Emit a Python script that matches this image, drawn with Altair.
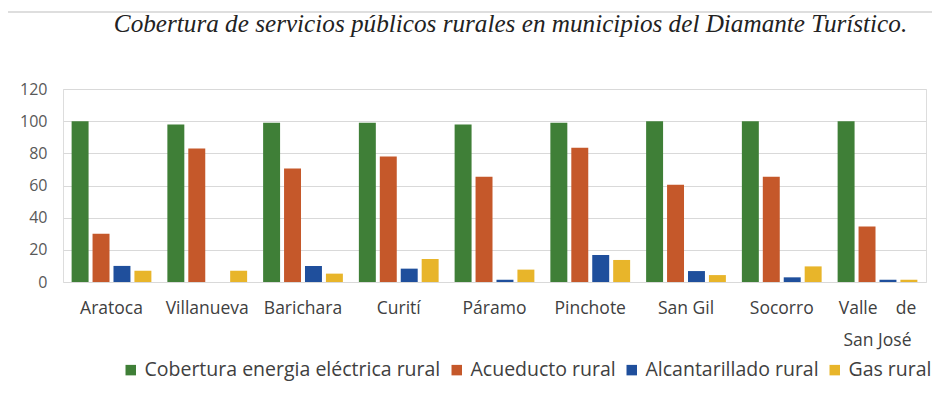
import altair as alt
import pandas as pd

municipios = ["Aratoca", "Villanueva", "Barichara", "Curití", "Páramo",
              "Pinchote", "San Gil", "Socorro", "Valle de San José"]
series = ["Cobertura energia eléctrica rural", "Acueducto rural",
          "Alcantarillado rural", "Gas rural"]
energia = [100, 98, 99, 99, 98, 99, 100, 100, 100]
acueducto = [30, 83, 70.5, 78, 65.5, 83.5, 60.5, 65.5, 34.5]
alcantarillado = [10, 0, 10, 8.3, 1.4, 16.8, 6.8, 2.9, 1.4]
gas = [7, 7, 5.2, 14.3, 7.7, 13.7, 4.3, 9.7, 1.4]
colores = ["#3f7f37", "#c5582a", "#1f4f9c", "#e8b52a"]
titulo = "Cobertura de servicios públicos rurales en municipios del Diamante Turístico."

rows = []
for s, vals in zip(series, [energia, acueducto, alcantarillado, gas]):
    for m, v in zip(municipios, vals):
        rows.append({"municipio": m, "serie": s, "valor": v})
df = pd.DataFrame(rows)

W, H = 863, 193

frame = alt.Chart(pd.DataFrame({"a": [0]})).mark_rect(
    filled=False, stroke="#d4d4d4", strokeWidth=1.5, clip=False
).encode(
    x=alt.value(-57), x2=alt.value(W + 12),
    y=alt.value(-77), y2=alt.value(H + 140)
)

title_mark = alt.Chart(pd.DataFrame({"t": [titulo]})).mark_text(
    font="Liberation Serif", fontStyle="italic", fontSize=25.2, color="#222222",
    align="center", baseline="alphabetic", clip=False
).encode(
    text="t:N", x=alt.value(W / 2 + 16), y=alt.value(-57)
)

bars = alt.Chart(df).mark_bar().encode(
    x=alt.X("municipio:N", sort=municipios, title=None,
            scale=alt.Scale(paddingInner=0.167, paddingOuter=0.09),
            axis=alt.Axis(labelAngle=0, ticks=False, domain=False,
                          labelPadding=17, labelFontSize=17.5, labelFont="Open Sans",
                          labelColor="#404040",
                          labelExpr="datum.value == 'Valle de San José' ? ['Valle\u00a0\u00a0\u00a0\u00a0de', 'San José'] : datum.value",
                          labelLineHeight=32, labelBaseline="top")),
    xOffset=alt.XOffset("serie:N", sort=series,
                        scale=alt.Scale(paddingInner=0.19, paddingOuter=0)),
    y=alt.Y("valor:Q", title=None,
            scale=alt.Scale(domain=[0, 120]),
            axis=alt.Axis(values=[0, 20, 40, 60, 80, 100, 120], ticks=False,
                          domain=False, labelPadding=16, labelFontSize=16,
                          labelFont="Open Sans", labelColor="#595959",
                          gridColor="#d9d9d9", gridWidth=1)),
    color=alt.Color("serie:N", sort=series,
                    scale=alt.Scale(domain=series, range=colores),
                    legend=alt.Legend(title=None, orient="none", direction="horizontal",
                                      legendX=58, legendY=271,
                                      symbolType="square", symbolSize=110,
                                      symbolStrokeWidth=0, symbolOpacity=1,
                                      labelFontSize=19.5, labelFont="Open Sans",
                                      labelColor="#404040", columnPadding=6,
                                      labelLimit=0,
                                      symbolOffset=0, labelOffset=4))
)

chart = alt.layer(frame, title_mark, bars).properties(
    width=W, height=H,
    autosize=alt.AutoSizeParams(type="none"),
    padding={"left": 55, "top": 81, "right": 6, "bottom": 110}
).configure_view(stroke=None).configure(background="white")

chart.save("out.html", embed_options={"renderer": "svg", "actions": False})
